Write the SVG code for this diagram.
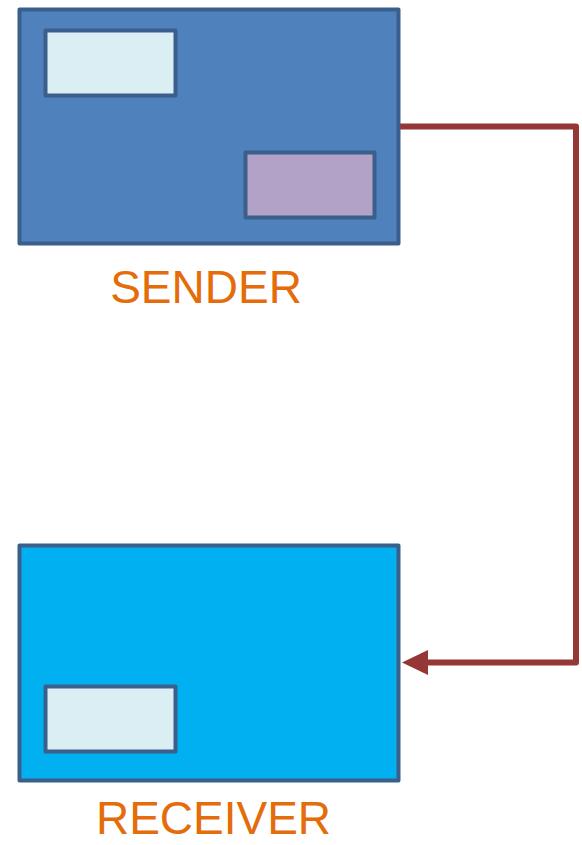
<svg xmlns="http://www.w3.org/2000/svg" width="582" height="845" viewBox="0 0 582 845">
<defs>
<style>
.box{stroke:#3a5f8b;stroke-width:4;stroke-linejoin:round}
.inner{stroke:#3a5f8b;stroke-width:4;stroke-linejoin:round}
.lbl{font-family:"Liberation Sans",Arial,sans-serif;font-size:46px;fill:#e46c0a;text-anchor:middle}
.conn{fill:none;stroke:#953735;stroke-width:6;stroke-linejoin:round}
</style>
</defs>
<rect width="582" height="845" fill="#ffffff"/>
<g id="connectors">
<path class="conn" d="M398,126.5 H576 V662.5 H426"/>
<polygon points="402,662.5 428,650 428,675" fill="#953735"/>
</g>
<g id="sender">
<rect class="box" x="19.5" y="9.5" width="379" height="234" fill="#4f81bd"/>
<rect class="inner" x="45.5" y="30.5" width="130" height="65" fill="#dbeef4"/>
<rect class="inner" x="245.5" y="152.5" width="129" height="65" fill="#b2a2c7"/>
<text class="lbl" x="206" y="303">SENDER</text>
</g>
<g id="receiver">
<rect class="box" x="19.5" y="545.5" width="379" height="235" fill="#00b0f0"/>
<rect class="inner" x="45.5" y="686.5" width="130" height="65" fill="#dbeef4"/>
<text class="lbl" x="213.5" y="834">RECEIVER</text>
</g>
</svg>
